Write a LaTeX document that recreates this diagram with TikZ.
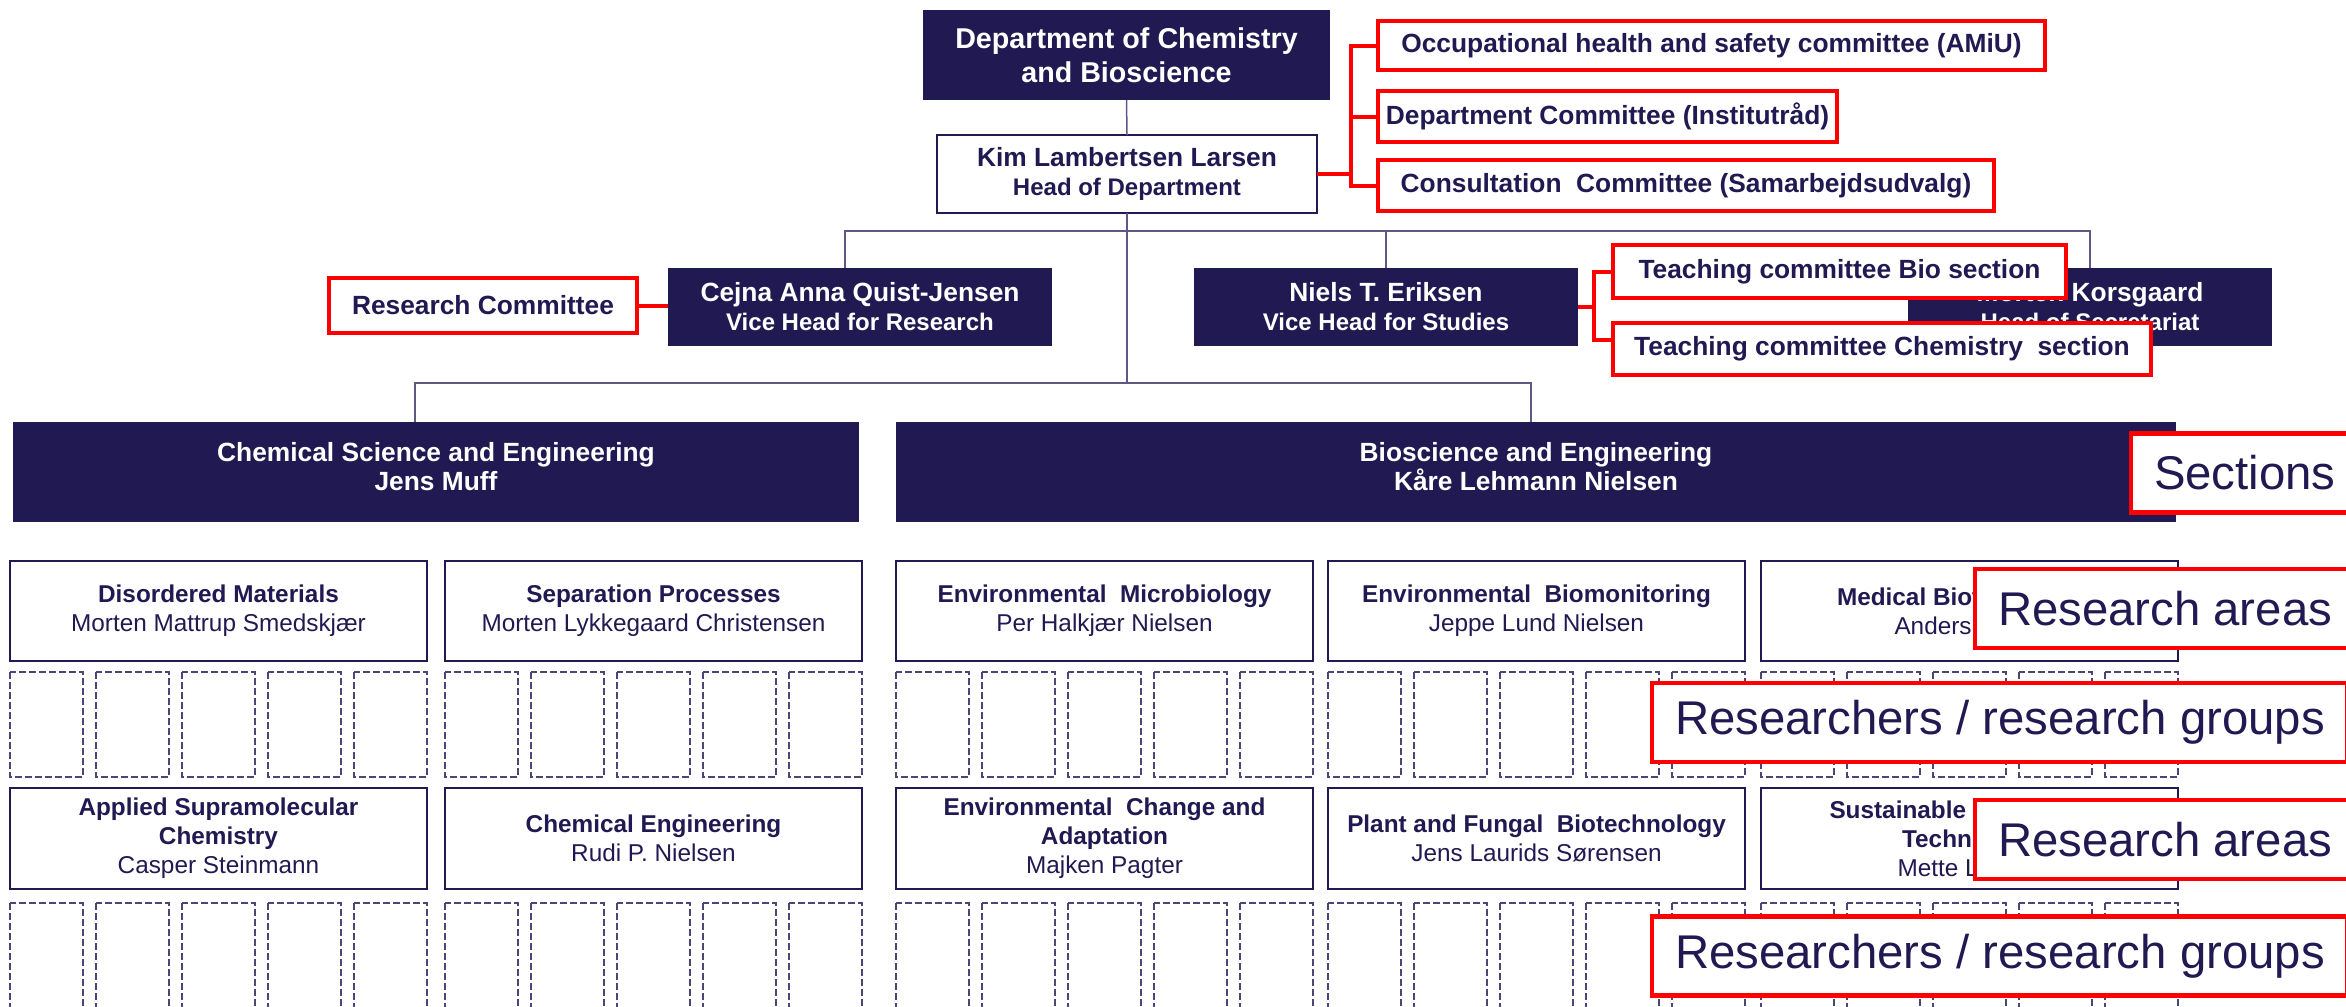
\documentclass[tikz,border=0pt]{standalone}
\usepackage{fontspec}
\setmainfont{Liberation Sans}
\usepackage{tikz}
\definecolor{aaunavy}{HTML}{211A52}
\definecolor{linkgray}{HTML}{5E5887}
\definecolor{groupgray}{HTML}{4B4679}
\newlength{\pixel}
\setlength{\pixel}{0.3pt}
\newcommand{\titlefont}{\fontsize{8.6}{10.2}\selectfont\bfseries}
\newcommand{\headfont}{\fontsize{7.9}{8.7}\selectfont\bfseries}
\newcommand{\subfont}{\fontsize{7.2}{8.7}\selectfont\bfseries}
\newcommand{\areafont}{\fontsize{7.3}{8.7}\selectfont}
\newcommand{\tagfont}{\fontsize{14.2}{17}\selectfont}
\tikzstyle{orgbox}=[inner sep=0, outer sep=0, align=center, text=aaunavy]
\tikzstyle{darkbox}=[orgbox, fill=aaunavy, text=white, font=\headfont]
\tikzstyle{sectionbox}=[darkbox, text depth=12\pixel]
\tikzstyle{whitebox}=[orgbox, draw=aaunavy, line width=0.6pt, fill=white, font=\headfont]
\tikzstyle{areabox}=[orgbox, draw=aaunavy, line width=0.5pt, fill=white, font=\areafont]
\tikzstyle{committee}=[orgbox, draw=red, line width=1.2pt, fill=white, font=\headfont, anchor=west]
\tikzstyle{tag}=[orgbox, draw=red, line width=1.4pt, fill=white, font=\tagfont, anchor=west,
                 inner xsep=23\pixel, minimum height=79\pixel]
\tikzstyle{link}=[draw=linkgray, line width=0.45pt]
\tikzstyle{redlink}=[draw=red, line width=1.2pt]
\tikzstyle{groupbox}=[draw=groupgray, line width=0.4pt, dash pattern=on 2pt off 1pt]
\tikzset{boxsize/.style 2 args={minimum width=#1\pixel, minimum height=#2\pixel}}
\begin{document}
\begin{tikzpicture}[x=\pixel, y=-\pixel]
    \useasboundingbox (0,0) rectangle (2346,1006);
    % management
    \node[darkbox, boxsize={407}{90}, font=\titlefont] (dept) at (1126.5,55) {Department of Chemistry\\and Bioscience};
    \node[whitebox, boxsize={380}{78}] (head) at (1127,174) {Kim Lambertsen Larsen\\{\subfont Head of Department}};
    \node[darkbox, boxsize={384}{78}] (vhres) at (860,307) {Cejna Anna Quist-Jensen\\{\subfont Vice Head for Research}};
    \node[darkbox, boxsize={384}{78}] (vhstud) at (1386,307) {Niels T. Eriksen\\{\subfont Vice Head for Studies}};
    \node[darkbox, boxsize={364}{78}] (secr) at (2090,307) {Morten Korsgaard\\{\subfont Head of Secretariat}};
    % committees
    \node[committee, boxsize={667}{49}] (amiu) at (1378,45.5) {Occupational health and safety committee (AMiU)};
    \node[committee, boxsize={459}{51}] (instraad) at (1378,116.5) {Department Committee (Institutråd)};
    \node[committee, boxsize={616}{51}] (samu) at (1378,185.5) {Consultation\ \ Committee (Samarbejdsudvalg)};
    \node[committee, boxsize={308}{55}] (rescomm) at (329,305.5) {Research Committee};
    \node[committee, boxsize={453}{53}] (teachbio) at (1613,271.5) {Teaching committee Bio section};
    \node[committee, boxsize={538}{52}] (teachchem) at (1613,349) {Teaching committee Chemistry\ \ section};
    % sections
    \node[sectionbox, boxsize={846}{100}] (chemsec) at (436,472) {Chemical Science and Engineering\\Jens Muff};
    \node[sectionbox, boxsize={1280}{100}] (biosec) at (1536,472) {Bioscience and Engineering\\Kåre Lehmann Nielsen};
    % researchers / research groups
    \foreach \colx in {10,445,896,1328,1761}
        \foreach \k in {0,...,4}
            \foreach \rowy in {672,903}
                \draw[groupbox] ({\colx+\k*86},\rowy) rectangle ++(73,105);
    % research areas
    \node[areabox, boxsize={417}{100}] (disord) at (218.5,611) {\textbf{Disordered Materials}\\Morten Mattrup Smedskjær};
    \node[areabox, boxsize={417}{100}] (separ) at (653.5,611) {\textbf{Separation Processes}\\Morten Lykkegaard Christensen};
    \node[areabox, boxsize={417}{100}] (envmicro) at (1104.5,611) {\textbf{Environmental\ \ Microbiology}\\Per Halkjær Nielsen};
    \node[areabox, boxsize={417}{100}] (envmon) at (1536.5,611) {\textbf{Environmental\ \ Biomonitoring}\\Jeppe Lund Nielsen};
    \node[areabox, boxsize={417}{100}] (medbio) at (1969.5,611) {\textbf{Medical Biotechnology}\\\makebox[150\pixel][l]{Anders}};
    \node[areabox, boxsize={417}{101}] (supra) at (218.5,838.5) {\textbf{Applied Supramolecular}\\\textbf{Chemistry}\\Casper Steinmann};
    \node[areabox, boxsize={417}{101}] (chemeng) at (653.5,838.5) {\textbf{Chemical Engineering}\\Rudi P. Nielsen};
    \node[areabox, boxsize={417}{101}] (envchange) at (1104.5,838.5) {\textbf{Environmental\ \ Change and}\\\textbf{Adaptation}\\Majken Pagter};
    \node[areabox, boxsize={417}{101}] (fungal) at (1536.5,838.5) {\textbf{Plant and Fungal\ \ Biotechnology}\\Jens Laurids Sørensen};
    \node[areabox, boxsize={417}{101}] (sustain) at (1969.5,838.5) {\textbf{\makebox[280\pixel][l]{Sustainable}}\\\textbf{Technology}\\\makebox[144\pixel][l]{Mette L}};
    % tree
    \draw[link] (dept.south) -- (head.north);
    \draw[link] (head.south) -- ++(0,170);
    \draw[link] ([xshift=-15\pixel]vhres.north) -- ++(0,-37) -| (secr.north);
    \draw[link] (vhstud.north) -- ++(0,-37);
    \draw[link] ([xshift=-21\pixel]chemsec.north) -- ++(0,-39) -| ([xshift=-5\pixel]biosec.north);
    % committee links
    \draw[redlink] (head.east) -- ++(34,0) coordinate (headfork) |- (amiu.west);
    \draw[redlink] (headfork) |- (instraad.west);
    \draw[redlink] (headfork) |- (samu.west);
    \draw[redlink] (rescomm.east) -- (rescomm.east -| vhres.west);
    \draw[redlink] (vhstud.east) -- ++(16,0) coordinate (studfork) |- (teachbio.west);
    \draw[redlink] (studfork) |- ([yshift=2.7pt]teachchem.west);
    % level tags
    \node[tag] (tagsec) at (2131,473) {Sections};
    \node[tag] (tagarea) at (1975,608.5) {Research areas};
    \node[tag] (taggroup) at (1652,722.5) {Researchers / research groups};
    \node[tag] (tagareab) at (1975,839.5) {Research areas};
    \node[tag] (taggroupb) at (1652,956) {Researchers / research groups};
\end{tikzpicture}
\end{document}
